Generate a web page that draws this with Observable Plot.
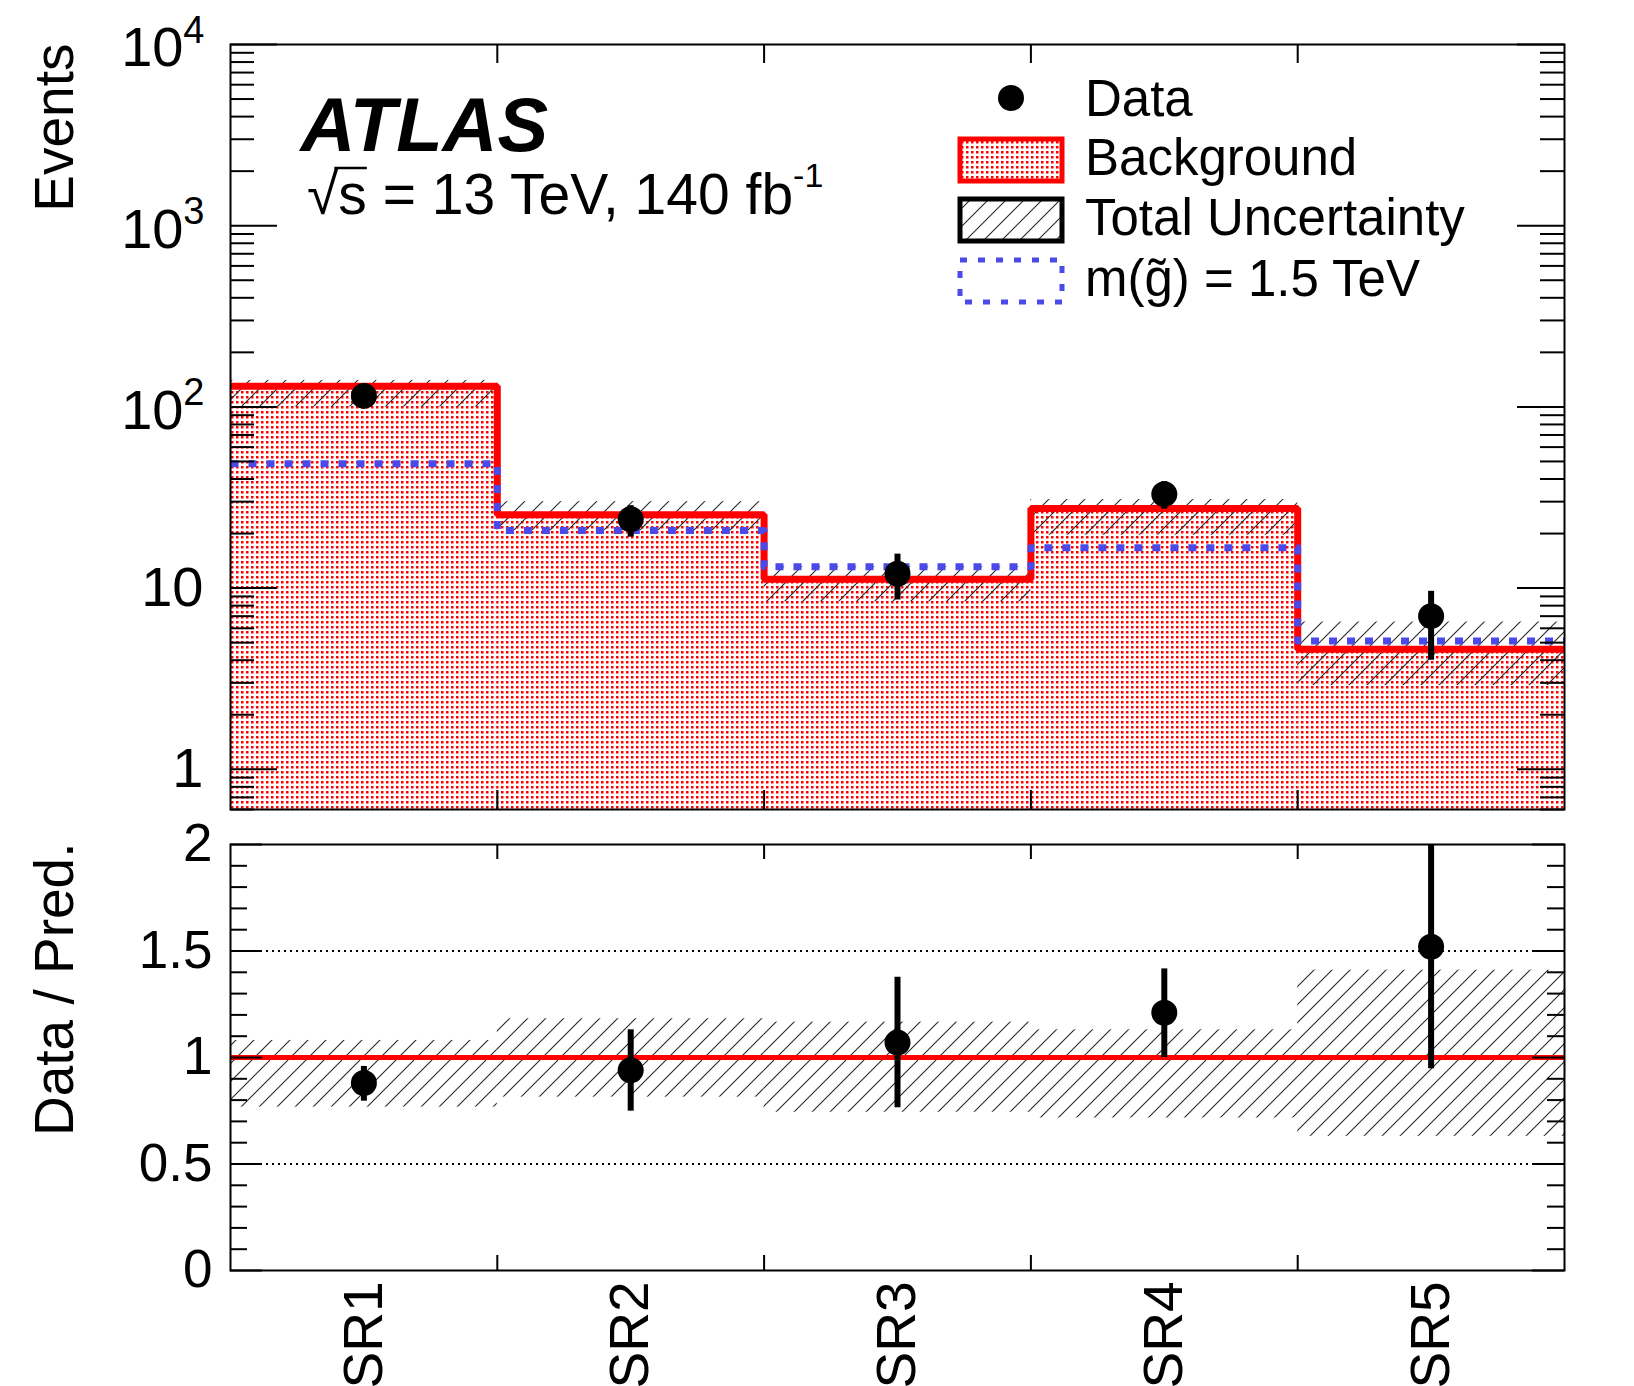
<!DOCTYPE html>
<html>
<head>
<meta charset="utf-8">
<script src="https://cdn.jsdelivr.net/npm/d3@7"></script>
<script src="https://cdn.jsdelivr.net/npm/@observablehq/plot@0.6"></script>
<style>
  html, body { margin: 0; padding: 0; background: #fff; overflow: hidden; }
  #chart { position: relative; width: 1634px; height: 1386px; }
  #chart svg { position: absolute; left: 0; display: block; max-width: none; }
</style>
</head>
<body>
<div id="chart"></div>
<script>
// ---- signal regions and yields ----
const regions = ["SR1", "SR2", "SR3", "SR4", "SR5"];
const background = [130, 25.4, 11.2, 27.5, 4.6];
const uncLow = [100, 20.7, 8.4, 19.6, 2.9];
const uncHigh = [140, 30, 13.1, 30.8, 6.5];
const signal = [48.5, 20.8, 13.1, 16.7, 5.1];
const observed = [115, 24, 12, 33, 7];
const observedLow = [105, 19.1, 8.6, 27.3, 4.0];
const observedHigh = [126, 28.5, 15.4, 38.7, 9.6];

// ---- data / prediction ----
const ratio = [0.88, 0.94, 1.07, 1.21, 1.52];
const ratioLow = [0.795, 0.748, 0.764, 1.0, 0.947];
const ratioHigh = [0.958, 1.13, 1.377, 1.416, 2.09];
const ratioUncLow = [0.767, 0.814, 0.743, 0.716, 0.63];
const ratioUncHigh = [1.08, 1.182, 1.166, 1.13, 1.41];

// ---- axis ticks ----
const binEdges = [1, 2, 3, 4];
const eventTicks = [1, 10, 100, 1000, 10000];
const eventTickBase = ["1", "10", "10", "10", "10"];
const eventTickExp = ["", "", "2", "3", "4"];
const ratioTicks = [0, 0.5, 1, 1.5, 2];
const ratioTickLabels = ["0", "0.5", "1", "1.5", "2"];

const eventMinor = d3.range(-1, 4)
  .flatMap(e => d3.range(2, 10).map(k => k * Math.pow(10, e)))
  .filter(v => v >= 0.6 && v < 1e4);
const ratioMinor = d3.range(1, 20).map(k => k / 10).filter(v => Math.abs(v * 2 - Math.round(v * 2)) > 1e-6);

const bins = regions.map((name, i) => ({
  name, x1: i, x2: i + 1, xc: i + 0.5,
  bkg: background[i], uLo: uncLow[i], uHi: uncHigh[i],
  obs: observed[i], oLo: observedLow[i], oHi: observedHigh[i],
  r: ratio[i], rLo: ratioLow[i], rHi: ratioHigh[i],
  ruLo: ratioUncLow[i], ruHi: ratioUncHigh[i]
}));
const stepBkg = [...background.map((v, i) => ({x: i, y: v})), {x: 5, y: background[4]}];
const stepSig = [...signal.map((v, i) => ({x: i, y: v})), {x: 5, y: signal[4]}];

const FONT = "'Liberation Sans', Arial, Helvetica, sans-serif";
const RED = "#ff0000";
const BLUE = "#4a4ae8";
const W = 1634, ML = 230, MR = 70;
const FW = W - ML - MR;          // frame width
const H1 = 826, MT1 = 44, MB1 = 17, FH1 = H1 - MT1 - MB1;
const H2 = 560, MT2 = 18, MB2 = 116, FH2 = H2 - MT2 - MB2;

// ---------- upper pad: event yields ----------
const upper = Plot.plot({
  width: W, height: H1,
  marginLeft: ML, marginRight: MR, marginTop: MT1, marginBottom: MB1,
  x: {domain: [0, 5], axis: null},
  y: {type: "log", domain: [0.6, 1e4], axis: null},
  style: {fontFamily: FONT, background: "transparent", overflow: "visible"},
  marks: [
    Plot.rect(bins, {x1: "x1", x2: "x2", y1: 0.6, y2: "bkg", fill: "url(#bkgDots)"}),
    Plot.rect(bins, {x1: "x1", x2: "x2", y1: "uLo", y2: "uHi", fill: "url(#uncHatch)"}),
    Plot.line(stepBkg, {x: "x", y: "y", curve: "step-after", stroke: RED, strokeWidth: 7, strokeLinejoin: "miter", strokeLinecap: "butt"}),
    Plot.line(stepSig, {x: "x", y: "y", curve: "step-after", stroke: BLUE, strokeWidth: 7, strokeDasharray: "8,10", strokeLinecap: "butt"}),
    Plot.ruleX(bins, {x: "xc", y1: "oLo", y2: "oHi", stroke: "black", strokeWidth: 6}),
    Plot.dot(bins, {x: "xc", y: "obs", r: 13, fill: "black"}),
    // ticks
    Plot.tickY(eventTicks, {y: d => d, insetRight: FW - 47, strokeWidth: 2}),
    Plot.tickY(eventMinor, {y: d => d, insetRight: FW - 24, strokeWidth: 2}),
    Plot.tickY(eventTicks, {y: d => d, insetLeft: FW - 47, strokeWidth: 2}),
    Plot.tickY(eventMinor, {y: d => d, insetLeft: FW - 24, strokeWidth: 2}),
    Plot.tickX(binEdges, {x: d => d, insetBottom: FH1 - 19, strokeWidth: 2}),
    Plot.tickX(binEdges, {x: d => d, insetTop: FH1 - 19, strokeWidth: 2}),
    Plot.frame({stroke: "black", strokeWidth: 2}),
    // tick labels
    Plot.text(eventTicks.filter((d, i) => !eventTickExp[i]), {
      y: d => d, frameAnchor: "left", dx: -27, textAnchor: "end", lineAnchor: "middle",
      text: d => eventTickBase[eventTicks.indexOf(d)], fontSize: 56
    }),
    Plot.text(eventTicks.filter((d, i) => eventTickExp[i]), {
      y: d => d, frameAnchor: "left", dx: -47, dy: 4, textAnchor: "end", lineAnchor: "middle",
      text: d => eventTickBase[eventTicks.indexOf(d)], fontSize: 56
    }),
    Plot.text(eventTicks.filter((d, i) => eventTickExp[i]), {
      y: d => d, frameAnchor: "left", dx: -26, dy: -14, textAnchor: "end", lineAnchor: "middle",
      text: d => eventTickExp[eventTicks.indexOf(d)], fontSize: 38
    }),
    Plot.text(["Events"], {
      frameAnchor: "top-left", dx: 72 - ML, dy: -1, rotate: -90,
      textAnchor: "end", lineAnchor: "bottom", fontSize: 55
    }),
    Plot.text(["ATLAS"], {
      frameAnchor: "top-left", dx: 300 - ML, dy: 150 - MT1,
      textAnchor: "start", lineAnchor: "bottom", fontSize: 76, fontWeight: "bold", fontStyle: "italic"
    })
  ]
});

// ---------- lower pad: data / prediction ----------
const lower = Plot.plot({
  width: W, height: H2,
  marginLeft: ML, marginRight: MR, marginTop: MT2, marginBottom: MB2,
  x: {domain: [0, 5], axis: null},
  y: {domain: [0, 2], axis: null},
  style: {fontFamily: FONT, background: "transparent", overflow: "visible"},
  marks: [
    Plot.rect(bins, {x1: "x1", x2: "x2", y1: "ruLo", y2: "ruHi", fill: "url(#uncHatch)"}),
    Plot.ruleY([0.5, 1.5], {stroke: "black", strokeWidth: 2, strokeDasharray: "2,4"}),
    Plot.ruleY([1], {stroke: RED, strokeWidth: 5}),
    Plot.ruleX(bins, {x: "xc", y1: "rLo", y2: "rHi", stroke: "black", strokeWidth: 6, clip: true}),
    Plot.dot(bins, {x: "xc", y: "r", r: 13, fill: "black"}),
    Plot.tickY(ratioTicks, {y: d => d, insetRight: FW - 32, strokeWidth: 2}),
    Plot.tickY(ratioMinor, {y: d => d, insetRight: FW - 17, strokeWidth: 2}),
    Plot.tickY(ratioTicks, {y: d => d, insetLeft: FW - 32, strokeWidth: 2}),
    Plot.tickY(ratioMinor, {y: d => d, insetLeft: FW - 17, strokeWidth: 2}),
    Plot.tickX(binEdges, {x: d => d, insetBottom: FH2 - 15, strokeWidth: 2}),
    Plot.tickX(binEdges, {x: d => d, insetTop: FH2 - 15, strokeWidth: 2}),
    Plot.frame({stroke: "black", strokeWidth: 2}),
    Plot.text(ratioTicks, {
      y: d => d, frameAnchor: "left", dx: -18, textAnchor: "end", lineAnchor: "middle",
      text: (d, i) => ratioTickLabels[i], fontSize: 53
    }),
    Plot.text(["Data / Pred."], {
      frameAnchor: "top-left", dx: 72 - ML, dy: -2, rotate: -90,
      textAnchor: "end", lineAnchor: "bottom", fontSize: 55
    }),
    Plot.text(bins, {
      x: "xc", text: "name", frameAnchor: "bottom", dy: 11, rotate: -90,
      textAnchor: "end", lineAnchor: "middle", fontSize: 55
    })
  ]
});

const chart = document.getElementById("chart");
upper.style.top = "0px";
lower.style.top = H1 + "px";
chart.appendChild(upper);
chart.appendChild(lower);

// fill patterns shared by both pads
const svgU = d3.select(upper);
svgU.insert("defs", ":first-child").html(`
  <pattern id="bkgDots" patternUnits="userSpaceOnUse" width="5" height="5">
    <rect x="1" y="1" width="2.5" height="2.5" fill="${RED}"/>
  </pattern>
  <pattern id="uncHatch" patternUnits="userSpaceOnUse" width="18" height="18">
    <path d="M-4.5,4.5L4.5,-4.5M0,18L18,0M13.5,22.5L22.5,13.5" stroke="#262626" stroke-width="1.1" fill="none"/>
  </pattern>`);

// centre-of-mass energy and luminosity
const lumi = svgU.append("text")
  .attr("x", 307).attr("y", 214).attr("text-anchor", "start")
  .attr("font-family", FONT).attr("font-size", 57).attr("fill", "black");
lumi.append("tspan").text("\u221A");
lumi.append("tspan").text("s");
lumi.append("tspan").text(" = 13 TeV, 140 fb");
lumi.append("tspan").attr("dy", -27).attr("font-size", 34).text("-1");
// bar of the square root over "s"
{
  const node = lumi.node();
  const root = node.getExtentOfChar(0);
  const s = node.getExtentOfChar(1);
  svgU.append("line")
    .attr("x1", root.x + root.width - 4).attr("x2", s.x + s.width)
    .attr("y1", 168).attr("y2", 168)
    .attr("stroke", "black").attr("stroke-width", 2.5);
}

// legend
const leg = svgU.append("g").attr("font-family", FONT).attr("font-size", 51).attr("text-anchor", "start");
const rows = [98, 157, 217, 278];
const boxX = 960, boxW = 102, boxH = 42;
leg.append("circle").attr("cx", 1011).attr("cy", rows[0]).attr("r", 13).attr("fill", "black");
leg.append("rect").attr("x", boxX).attr("y", 160 - boxH / 2).attr("width", boxW).attr("height", boxH)
  .attr("fill", "url(#bkgDots)").attr("stroke", RED).attr("stroke-width", 5);
leg.append("rect").attr("x", boxX).attr("y", 220 - boxH / 2).attr("width", boxW).attr("height", boxH)
  .attr("fill", "url(#uncHatch)").attr("stroke", "black").attr("stroke-width", 5);
leg.append("rect").attr("x", boxX).attr("y", 281 - boxH / 2).attr("width", boxW).attr("height", boxH)
  .attr("fill", "none").attr("stroke", BLUE).attr("stroke-width", 5).attr("stroke-dasharray", "7,11");
const legendLabels = ["Data", "Background", "Total Uncertainty", "m(g\u0303) = 1.5 TeV"];
legendLabels.forEach((t, i) => {
  leg.append("text").attr("x", 1085).attr("y", rows[i] + 18).attr("text-anchor", "start")
    .attr("fill", "black").text(t);
});
</script>
</body>
</html>
